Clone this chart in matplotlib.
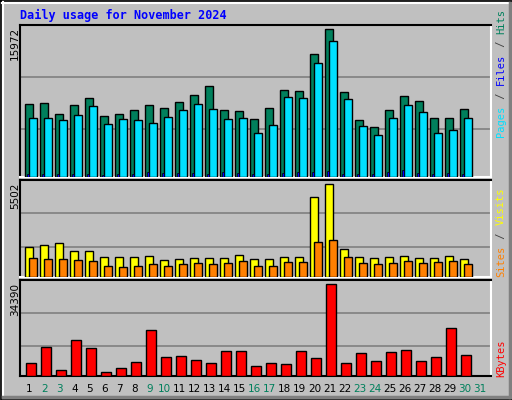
import matplotlib
matplotlib.use("Agg")
import numpy as np
import matplotlib.pyplot as plt
from matplotlib.lines import Line2D

## data
days = list(range(1, 32))
weekend_days = [2, 3, 9, 10, 16, 17, 23, 24, 30, 31]
hits = [7920, 8030, 6830, 7810, 8570, 6610, 6830, 7260, 7810, 7480, 8140, 8900, 9880, 7260, 7160,
        6280, 7480, 9440, 9330, 13250, 15972, 9220, 6170, 5410, 7260, 8790, 8240, 6390, 6390, 7370]
files = [6390, 6390, 6170, 6720, 7700, 5740, 6280, 6170, 5850, 6500, 7260, 7920, 7370, 6280, 6390,
         4760, 5630, 8680, 8570, 12380, 14670, 8460, 5520, 4540, 6390, 7810, 7050, 4760, 5090, 6390]
pages = [330, 330, 330, 330, 330, 220, 330, 330, 540, 440, 440, 440, 330, 540, 440,
         330, 330, 440, 540, 540, 650, 330, 330, 330, 550, 760, 440, 330, 440, 330]
visits = [1805, 1924, 2043, 1567, 1567, 1210, 1210, 1210, 1269, 1031, 1091, 1150, 1150, 1150, 1329,
          1091, 1091, 1210, 1210, 4720, 5502, 1686, 1210, 1150, 1210, 1269, 1150, 1150, 1269, 1091]
sites = [1150, 1091, 1091, 1031, 972, 674, 615, 674, 793, 674, 793, 853, 793, 853, 972,
         674, 674, 912, 912, 2102, 2221, 1210, 853, 793, 853, 972, 853, 912, 972, 793]
kbytes = [5016, 11035, 2383, 13669, 10659, 1630, 3135, 5392, 17431, 7273, 7649, 6145, 5016, 9530, 9530,
          3887, 5016, 4640, 9530, 6897, 34390, 5016, 8778, 5768, 9154, 9907, 5768, 7273, 18183, 8026]

BG = "#C0C0C0"
GREEN = "#00805C"
CYAN = "#00E0FF"
BLUE = "#0000FF"
YELLOW = "#FFFF00"
ORANGE = "#FF8000"
RED = "#FF0000"
MONO = "DejaVu Sans Mono"

W, H = 512, 400
fig = plt.figure(figsize=(W / 100, H / 100), dpi=100, facecolor=BG)

def px_axes(x0, y0, x1, y1):
    ## make axes from pixel box (top-left origin)
    return fig.add_axes([x0 / W, 1 - y1 / H, (x1 - x0) / W, (y1 - y0) / H])

def style(ax, ymax, grid_fracs):
    ax.set_facecolor(BG)
    ax.set_xlim(0.367, 31.77)
    ax.set_ylim(0, ymax)
    ax.set_xticks([])
    ax.set_yticks([])
    for g in grid_fracs:
        ax.axhline(g * ymax, color="#808080", lw=1.2, zorder=0)
    ax.spines["top"].set_color("black")
    ax.spines["left"].set_color("black")
    ax.spines["right"].set_color("white")
    ax.spines["bottom"].set_color("white")
    for s in ax.spines.values():
        s.set_linewidth(1.5)
        s.set_zorder(1.5)

x = np.array(days[:len(hits)])
kw = dict(align="edge", edgecolor="black", linewidth=1.0, zorder=2)

## top panel: hits / files / pages
ax1 = px_axes(20, 25, 491, 177)
style(ax1, 15972 * 151 / 146.7, [48 / 151, 99 / 151])
ax1.bar(x - 0.28, hits, 0.49, color=GREEN, **kw)
ax1.bar(x - 0.013, files, 0.49, color=CYAN, **kw)
ax1.bar(x - 0.15, pages, 0.13, color=BLUE, edgecolor="black", linewidth=0.5, align="edge", zorder=3)

## middle panel: visits / sites
ax2 = px_axes(20, 180, 491, 277)
style(ax2, 5502 * 96.7 / 92.4, [30.4 / 96.7, 63.4 / 96.7])
ax2.bar(x - 0.28, visits, 0.49, color=YELLOW, **kw)
ax2.bar(x - 0.013, sites, 0.49, color=ORANGE, **kw)

## bottom panel: kbytes
ax3 = px_axes(20, 280, 491, 376)
style(ax3, 34390 * 95.7 / 91.4, [29.7 / 95.7, 62.4 / 95.7])
ax3.bar(x - 0.21, kbytes, 0.67, color=RED, **kw)
ax3.spines["bottom"].set_color("black")

def ftext(px, py, s, **k):
    fig.text(px / W, 1 - py / H, s, **k)

## title and max labels
ftext(20, 15, "Daily usage for November 2024", color=BLUE, family=MONO,
      fontweight="bold", fontsize=8.5, va="center", ha="left")
ftext(15, 27, str(max(hits)), rotation=90, fontsize=7.5, va="top", ha="center")
ftext(15, 183, str(max(visits)), rotation=90, fontsize=7.5, va="top", ha="center")
ftext(15, 283, str(max(kbytes)), rotation=90, fontsize=7.5, va="top", ha="center")

## right side legends
def side(items, y_bottom, px=501):
    y = y_bottom
    for s, c in items:
        fig.text(px / W, 1 - y / H, s, color=c, family=MONO, fontsize=7.5,
                 rotation=90, va="bottom", ha="center")
        y -= len(s) * 6.2 + 1

side([("Pages", CYAN), (" / ", "#404040"), ("Files", BLUE), (" / ", "#404040"), ("Hits", GREEN)], 137)
side([("Sites", ORANGE), (" / ", "#404040"), ("Visits", YELLOW)], 277)
side([("KBytes", RED)], 377)

## day labels
for d in days:
    ftext(29.5 + 15 * (d - 1), 389, str(d), fontsize=7.5, ha="center", va="center",
          color=GREEN if d in weekend_days else "black")

## frame
def fline(xs, ys, c, lw):
    fig.add_artist(Line2D([v / W for v in xs], [1 - v / H for v in ys], color=c, lw=lw))

fline([0.5, 511.5, 511.5, 0.5, 0.5], [0.5, 0.5, 399.5, 399.5, 0.5], "black", 1.2)
fline([2, 509], [2.5, 2.5], "white", 1.5)
fline([2.5, 2.5], [2, 397], "white", 1.5)
fline([509.5, 509.5], [3, 397], "#808080", 2.5)
fline([3, 509], [397, 397], "#808080", 2.5)

fig.savefig("out.png", dpi=100, facecolor=BG)
